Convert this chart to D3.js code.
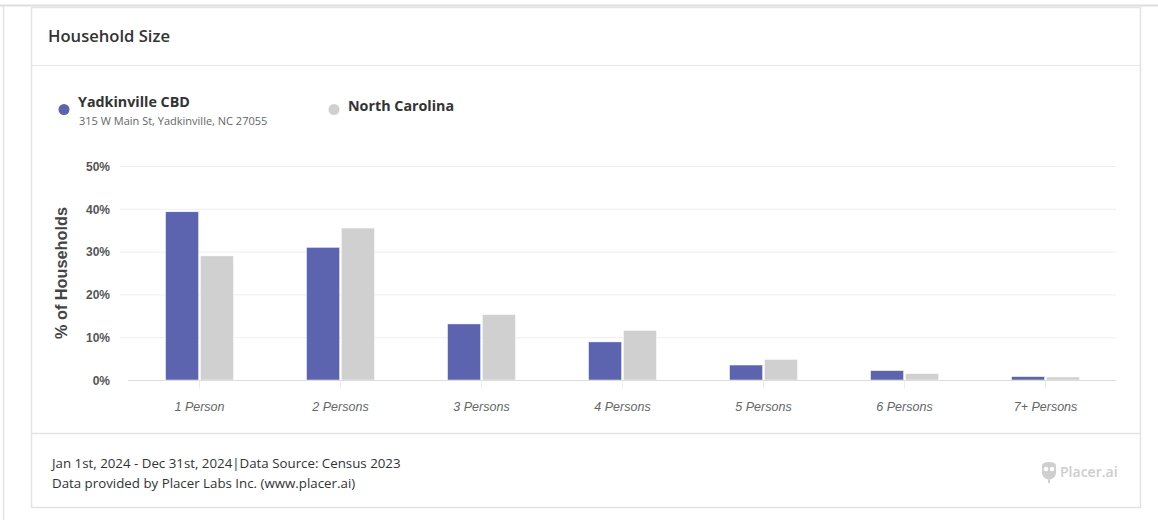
<!DOCTYPE html>
<html>
<head>
<meta charset="utf-8">
<script src="https://cdn.jsdelivr.net/npm/d3@7"></script>
<style>
  body { margin: 0; background: #fff; }
  svg { display: block; }
</style>
</head>
<body>
<svg id="svg" width="1158" height="520"></svg>
<script>
// categories and values (% of households)
const CATEGORIES = ["1 Person", "2 Persons", "3 Persons", "4 Persons", "5 Persons", "6 Persons", "7+ Persons"];
const YADKINVILLE = [39.3, 31.0, 13.1, 8.9, 3.5, 2.2, 0.8];
const NORTH_CAROLINA = [29.0, 35.5, 15.3, 11.6, 4.8, 1.5, 0.7];
const Y_TICKS = [0, 10, 20, 30, 40, 50];
const SERIES_NAMES = ["Yadkinville CBD", "North Carolina"];
const COLORS = ["#5c63af", "#d0d0d0"];

const svg = d3.select("#svg");

// outer frame lines
svg.append("line").attr("x1", 0).attr("x2", 1158).attr("y1", 5.5).attr("y2", 5.5)
    .attr("stroke", "#dedede").attr("stroke-width", 2);
svg.append("line").attr("x1", 3.5).attr("x2", 3.5).attr("y1", 6).attr("y2", 520)
    .attr("stroke", "#e2e2e2").attr("stroke-width", 1.5);

// card
svg.append("rect").attr("x", 31.5).attr("y", 7.5).attr("width", 1109).attr("height", 500)
    .attr("fill", "#fff").attr("stroke", "#e3e3e3").attr("stroke-width", 1.5);
svg.append("line").attr("x1", 32).attr("x2", 1140).attr("y1", 65.5).attr("y2", 65.5)
    .attr("stroke", "#e6e6e6");
svg.append("line").attr("x1", 32).attr("x2", 1140).attr("y1", 433.5).attr("y2", 433.5)
    .attr("stroke", "#e3e3e3").attr("stroke-width", 1.5);

svg.append("text").attr("x", 48).attr("y", 42)
    .style("font-family", "Open Sans").style("font-weight", 600).style("font-size", "16.6px")
    .attr("fill", "#333").text("Household Size");

// legend
const legendX = [64, 334];
SERIES_NAMES.forEach((name, i) => {
    svg.append("circle").attr("cx", legendX[i]).attr("cy", 109.5).attr("r", 5.5).attr("fill", COLORS[i]);
    svg.append("text").attr("x", legendX[i] + 14).attr("y", 107 + (i === 1 ? 4 : 0))
        .style("font-family", "Open Sans").style("font-weight", 700).style("font-size", "14.3px")
        .attr("fill", "#333").text(name);
});
svg.append("text").attr("x", 79).attr("y", 125)
    .style("font-family", "Open Sans").style("font-size", "11px")
    .attr("fill", "#666").text("315 W Main St, Yadkinville, NC 27055");

// scales
const x0 = d3.scaleBand().domain(CATEGORIES).range([129, 1116]);
const x1 = d3.scaleBand().domain([0, 1]).range([x0.bandwidth() / 2 - 34, x0.bandwidth() / 2 + 34]).paddingInner(0.05);
const y = d3.scaleLinear().domain([0, 50]).range([380, 166]);

// grid
svg.append("g").selectAll("line").data(Y_TICKS.slice(1)).enter().append("line")
    .attr("x1", 120).attr("x2", 1116)
    .attr("y1", d => y(d) + 0.5).attr("y2", d => y(d) + 0.5)
    .attr("stroke", "#efefef");

// y axis
const yAxis = d3.axisLeft(y).tickValues(Y_TICKS).tickSize(0).tickPadding(0).tickFormat(d => d + "%");
const gy = svg.append("g").attr("transform", "translate(110,0)").call(yAxis);
gy.select(".domain").remove();
gy.selectAll("text").attr("dy", "0.35em")
    .style("font-family", "Liberation Sans").style("font-weight", 700).style("font-size", "12px")
    .attr("fill", "#555");

svg.append("text").attr("transform", "translate(67,273) rotate(-90)")
    .attr("text-anchor", "middle")
    .style("font-family", "Liberation Sans").style("font-weight", 700).style("font-size", "16.3px")
    .attr("fill", "#444").text("% of Households");

// bars
const rows = CATEGORIES.map((c, i) => ({cat: c, vals: [YADKINVILLE[i], NORTH_CAROLINA[i]]}));
const groups = svg.append("g").selectAll("g").data(rows).enter().append("g")
    .attr("transform", d => "translate(" + x0(d.cat) + ",0)");
groups.selectAll("rect").data(d => d.vals.map((v, k) => ({k, v}))).enter().append("rect")
    .attr("x", d => x1(d.k))
    .attr("width", x1.bandwidth())
    .attr("y", d => y(d.v))
    .attr("height", d => y(0) - y(d.v))
    .attr("fill", d => COLORS[d.k])
    .attr("stroke", "#fff").attr("stroke-width", 0.5);

// x axis
const xAxis = d3.axisBottom(x0).tickSize(8).tickPadding(14);
const gx = svg.append("g").attr("transform", "translate(0,380.5)").call(xAxis);
gx.select(".domain").attr("stroke", "#dcdcdc").attr("d", "M128,0H1116");
gx.selectAll(".tick line").attr("stroke", "#ececec");
gx.selectAll("text")
    .style("font-family", "Liberation Sans").style("font-style", "italic").style("font-size", "12.5px")
    .attr("fill", "#666");

// footer
const footer = ["Jan 1st, 2024 - Dec 31st, 2024|Data Source: Census 2023", "Data provided by Placer Labs Inc. (www.placer.ai)"];
svg.append("g").selectAll("text").data(footer).enter().append("text")
    .attr("x", 52).attr("y", (d, i) => 468 + i * 20)
    .style("font-family", "Open Sans").style("font-size", "13.3px")
    .attr("fill", "#333").text(d => d);

// logo
const logo = svg.append("g").attr("transform", "translate(1049,472)").attr("fill", "#cfcfcf");
logo.append("path").attr("d", "M-7,-6 Q-7,-10 0,-10 Q7,-10 7,-6 L7,1 Q7,6 0,8 Q-7,6 -7,1 Z");
logo.append("circle").attr("cx", -3).attr("cy", -3).attr("r", 2.3).attr("fill", "#fff");
logo.append("circle").attr("cx", 3).attr("cy", -3).attr("r", 2.3).attr("fill", "#fff");
logo.append("rect").attr("x", -1).attr("y", 8).attr("width", 2).attr("height", 3);
svg.append("text").attr("x", 1060).attr("y", 477)
    .style("font-family", "Open Sans").style("font-weight", 600).style("font-size", "14px")
    .attr("fill", "#cdcdcd").text("Placer.ai");
</script>
</body>
</html>
